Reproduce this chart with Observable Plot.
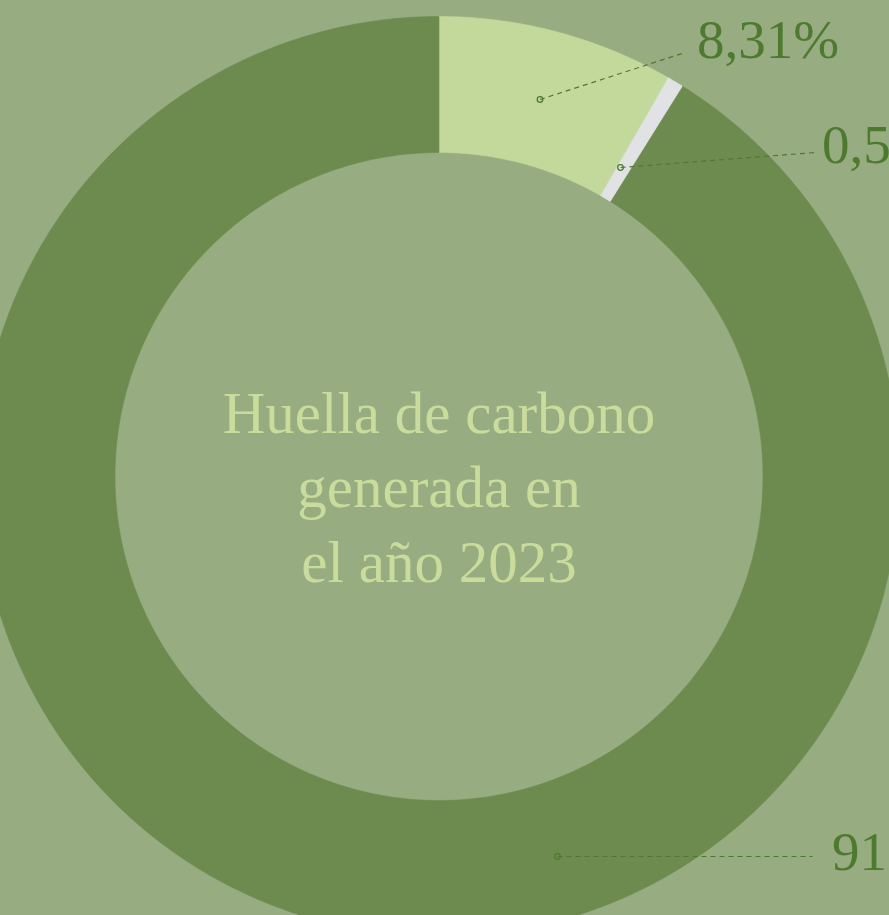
<!DOCTYPE html>
<html>
<head>
<meta charset="utf-8">
<script src="https://cdn.jsdelivr.net/npm/d3@7"></script>
<script src="https://cdn.jsdelivr.net/npm/@observablehq/plot@0.6"></script>
<style>
  html, body { margin: 0; padding: 0; background: #97ac80; overflow: hidden; }
  #chart svg { display: block; }
</style>
</head>
<body>
<div id="chart"></div>
<script>
// ---- data ----
const categories = ["Segmento A", "Segmento B", "Segmento C"];
const values = [8.31, 0.58, 91.11];
const valueLabels = ["8,31%", "0,58%", "91,11%"];
const centerTitle = ["Huella de carbono", "generada en", "el año 2023"];

// ---- style / layout (not data) ----
const sliceColors = ["#c3d99b", "#e1e2e4", "#6e8b4f"];
const W = 889, H = 915;
const cx = 438.5, cy = 476;
const R_OUT = 460, R_IN = 324;
// label layout in chart units (origin at donut centre, y downward)
const leaderStart = [[101, -377], [181.5, -309], [118.5, 380]];
const leaderEnd   = [[243, -423], [376.5, -324], [373.5, 380]];
const labelPos    = [[258, -436], [383, -331], [393, 376]];

// ---- build slices from values ----
const pie = d3.pie().sort(null).value(d => d.value);
const rows = categories.map((c, i) => ({category: c, value: values[i], color: sliceColors[i]}));
const arcs = pie(rows);

function slicePolygon(a) {
  const pts = [];
  const n = Math.max(4, Math.ceil((a.endAngle - a.startAngle) / 0.005));
  for (let k = 0; k <= n; k++) {
    const t = a.startAngle + (a.endAngle - a.startAngle) * k / n;
    pts.push({x: R_OUT * Math.sin(t), y: -R_OUT * Math.cos(t)});
  }
  for (let k = n; k >= 0; k--) {
    const t = a.startAngle + (a.endAngle - a.startAngle) * k / n;
    pts.push({x: R_IN * Math.sin(t), y: -R_IN * Math.cos(t)});
  }
  pts.push(pts[0]);
  return pts;
}

const sliceMarks = arcs.map(a => Plot.line(slicePolygon(a), {
  x: "x", y: "y", fill: a.data.color, stroke: a.data.color, strokeWidth: 0.6, curve: "linear"
}));

const links = categories.map((c, i) => ({
  x1: leaderStart[i][0], y1: leaderStart[i][1],
  x2: leaderEnd[i][0], y2: leaderEnd[i][1],
  label: valueLabels[i], lx: labelPos[i][0], ly: labelPos[i][1]
}));

const serif = "'Liberation Serif', 'DejaVu Serif', serif";

const chart = Plot.plot({
  width: W, height: H,
  margin: 0,
  style: {background: "#97ac80", overflow: "visible"},
  x: {domain: [-cx, W - cx], range: [0, W], axis: null},
  y: {domain: [-cy, H - cy], range: [0, H], axis: null},
  marks: [
    ...sliceMarks,
    Plot.link(links, {x1: "x1", y1: "y1", x2: "x2", y2: "y2",
      stroke: "#4e7a2f", strokeWidth: 1.2, strokeDasharray: "5,4"}),
    Plot.dot(links, {x: "x1", y: "y1", r: 2.8, stroke: "#4e7a2f", strokeWidth: 1.3, fill: "none"}),
    Plot.text(links, {x: "lx", y: "ly", text: "label", textAnchor: "start",
      lineAnchor: "middle", fontSize: 55, fill: "#4e7a2f", fontFamily: serif}),
    Plot.text([centerTitle.join("\n")], {x: 0, y: 0, text: d => d, textAnchor: "middle",
      lineAnchor: "middle", lineHeight: 1.27, fontSize: 59, fill: "#c9dc9c", fontFamily: serif, dy: 7})
  ]
});
document.getElementById("chart").appendChild(chart);
</script>
</body>
</html>
